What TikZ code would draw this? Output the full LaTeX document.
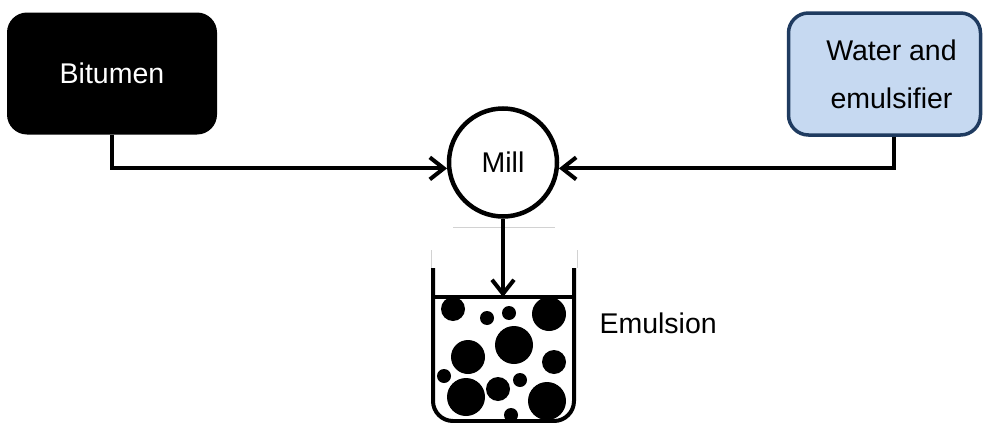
\documentclass[tikz,border=0pt]{standalone}
\usepackage{fontspec}
\setmainfont{Liberation Sans}
\usetikzlibrary{arrows.meta,calc}
\definecolor{boxblue}{HTML}{C6D9F1}
\definecolor{edgeblue}{HTML}{1F3B60}
\begin{document}
\begin{tikzpicture}[x=1pt,y=-1pt,
  lbl/.style={font=\fontsize{28.5}{48}\selectfont, align=center},
  feed/.style={rounded corners=20pt, minimum width=#1, minimum height=122pt, lbl, inner sep=0pt},
  flow/.style={line width=4pt, -{Straight Barb[length=14pt,width=22pt,line width=4pt]}},
  drop/.style={fill=black, draw=none}]
\useasboundingbox (0,0) rectangle (983,423);

% feed boxes
\node[feed=210pt, fill=black, text=white] (bit) at (112,73.5) {Bitumen};
\node[feed=192pt, fill=boxblue, draw=edgeblue, line width=3.5pt,
  label={[lbl, xshift=7pt]center:Water and\\emulsifier}] (wat) at (884.5,74) {};

% mill
\node[circle, draw, line width=4.5pt, minimum size=108pt, inner sep=0pt, lbl] (mill) at (503,162.5) {Mill};

% feeds into the mill
\draw[flow] (bit.south) |- (mill.186);
\draw[flow] ([xshift=9.5pt]wat.south) |- (mill.354);

% beaker
\draw[gray!35, line width=1pt] (453,227) -- (555,227);
\draw[gray!35, line width=1pt] (431,250) -- (431,268);
\draw[gray!35, line width=1pt] (577,250) -- (577,268);
\draw[line width=4pt, rounded corners=20pt] (433,268) -- (433,421) -- (574,421) -- (574,268);
\coordinate (lvl) at (504,297);
\draw[line width=3.5pt] (433,297) -- (574,297);
\draw[flow] (mill.south) -- (mill.south |- lvl);

% droplets
\foreach \x/\y/\r in {453/309/12, 487/318/7, 509/313/7, 549/314/17, 514/345/19,
  468/357/17, 554/362/12, 444/376/7, 520/380/7, 498/389/12, 466/397/19,
  547/401/19, 511/415/7}
  \fill[drop] (\x,\y) circle[radius=\r];

\node[lbl, anchor=west] (emu) at (596,323) {Emulsion};
\end{tikzpicture}
\end{document}
